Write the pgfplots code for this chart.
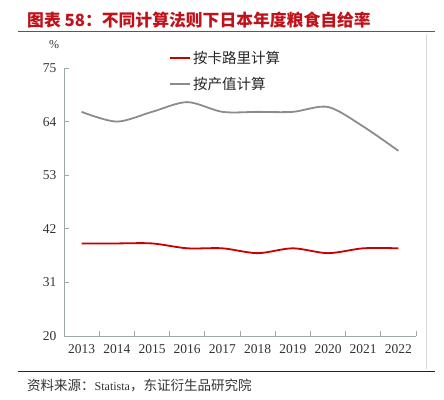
\documentclass[border=0pt]{standalone}
\usepackage{pgfplots}
\pgfplotsset{compat=1.18}
\usepackage{fontspec}
\setmainfont{Liberation Serif}
\newfontfamily\cjk{Noto Sans CJK SC}
\definecolor{myred}{HTML}{C80000}
\definecolor{mygray}{HTML}{8C8C8C}
\definecolor{titred}{HTML}{C0121A}
\definecolor{axcol}{HTML}{9AAAA8}
\definecolor{txt}{HTML}{333333}
\begin{document}
\begin{tikzpicture}[x=1pt,y=1pt]
\path[use as bounding box] (0pt,0pt) rectangle (444pt,399pt);
\node[anchor=west, text=titred, inner sep=0pt, font=\cjk\bfseries\fontsize{16.8}{19}\selectfont] at (27pt,379pt) {图表 58：不同计算法则下日本年度粮食自给率};
\draw[black!65, line width=1pt] (18pt,367pt) -- (435pt,367pt);
\draw[black!15, line width=0.6pt] (426.7pt,30pt) -- (426.7pt,365pt);
\draw[black!85, line width=0.8pt] (18pt,27.3pt) -- (435pt,27.3pt);
\node[anchor=west, inner sep=0pt, text=txt, font=\cjk\fontsize{13.5}{15}\selectfont] at (27pt,14pt) {资料来源：{\rmfamily\fontsize{12}{14}\selectfont Statista}，东证衍生品研究院};
\node[text=txt, font=\fontsize{12}{14}\selectfont] at (54pt,354pt) {\%};
\begin{axis}[
  at={(64pt,63pt)}, anchor=south west,
  scale only axis, width=352pt, height=268pt,
  xmin=-0.5, xmax=9.5, ymin=20, ymax=75,
  ytick={20,31,42,53,64,75},
  xtick={0,...,9},
  xticklabels={2013,2014,2015,2016,2017,2018,2019,2020,2021,2022},
  minor xtick={0.5,1.5,...,9.5},
  major x tick style={draw=none},
  tick align=inside,
  major tick length=5pt, minor tick length=5pt,
  axis lines*=left,
  axis line style={axcol, line width=0.9pt, -},
  every tick/.style={axcol, line width=0.8pt},
  /pgf/number format/assume math mode=true,
  /pgf/number format/1000 sep={},
  tick label style={font=\fontsize{13.5}{15}\selectfont, text=txt},
  yticklabel style={xshift=-4pt},
  xticklabel style={yshift=-5pt},
  legend style={at={(0.29,1.08)}, anchor=north west, draw=none, fill=none,
    font=\cjk\fontsize{14.5}{16}\selectfont, row sep=9pt, text=black!85},
  legend cell align=left,
  legend image code/.code={\draw[#1] (0pt,0pt) -- (20pt,0pt);},
]
\addplot[myred, line width=1.8pt, smooth, tension=0.5] coordinates {
(0,39) (1,39) (2,39) (3,38) (4,38) (5,37) (6,38) (7,37) (8,38) (9,38)};
\addlegendentry{按卡路里计算}
\addplot[mygray, line width=1.8pt, smooth, tension=0.5] coordinates {
(0,66) (1,64) (2,66) (3,68) (4,66) (5,66) (6,66) (7,67) (8,63) (9,58)};
\addlegendentry{按产值计算}
\end{axis}
\end{tikzpicture}
\end{document}
